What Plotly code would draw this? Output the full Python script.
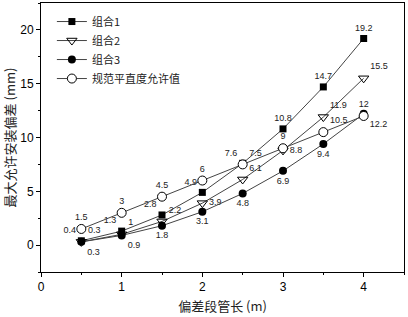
import plotly.graph_objects as go

x_len = [0.5, 1, 1.5, 2, 2.5, 3, 3.5, 4]
combo1 = [0.4, 1.3, 2.8, 4.9, 7.6, 10.8, 14.7, 19.2]
combo2 = [0.3, 1, 2.2, 3.9, 6.1, 8.8, 11.9, 15.5]
combo3 = [0.3, 0.9, 1.8, 3.1, 4.8, 6.9, 9.4, 12.2]
spec = [1.5, 3, 4.5, 6, 7.5, 9, 10.5, 12]
names = ["组合1", "组合2", "组合3", "规范平直度允许值"]

pos1 = ["top left"] * 5 + ["top center"] * 3
pos2 = ["top right", "top right", "top right", "middle right", "top right", "middle right", "top right", "top right"]
pos3 = ["bottom right", "bottom right", "bottom center", "bottom center", "bottom center", "bottom center", "bottom center", "bottom right"]
pos4 = ["top center"] * 4 + ["top right", "top center", "top right", "top center"]

line = dict(color="#444444", width=1)
lab_font = dict(family="Liberation Sans, Arial", size=9, color="#222222")

fig = go.Figure()
fig.add_trace(go.Scatter(x=x_len, y=combo1, name=names[0], mode="lines+markers+text",
                         text=[str(v) for v in combo1], textposition=pos1, textfont=lab_font,
                         line=line, marker=dict(symbol="square", size=7, color="black")))
fig.add_trace(go.Scatter(x=x_len, y=combo2, name=names[1], mode="lines+markers+text",
                         text=[str(v) for v in combo2], textposition=pos2, textfont=lab_font,
                         line=line, marker=dict(symbol="triangle-down-open", size=9, color="black", line=dict(width=1))))
fig.add_trace(go.Scatter(x=x_len, y=combo3, name=names[2], mode="lines+markers+text",
                         text=[str(v) for v in combo3], textposition=pos3, textfont=lab_font,
                         line=line, marker=dict(symbol="circle", size=8, color="black")))
fig.add_trace(go.Scatter(x=x_len, y=spec, name=names[3], mode="lines+markers+text",
                         text=[str(v) for v in spec], textposition=pos4, textfont=lab_font,
                         line=line, marker=dict(symbol="circle", size=9, color="white", line=dict(width=1, color="black"))))

axis_common = dict(showline=True, linecolor="black", linewidth=1, mirror=True, automargin=False,
                   ticks="outside", ticklen=4, tickcolor="black", showgrid=False, zeroline=False,
                   tickfont=dict(family="Liberation Sans, Arial", size=12, color="black"))

fig.update_xaxes(range=[0, 4.5], dtick=1, tick0=0,
                 minor=dict(ticks="outside", ticklen=2, dtick=0.5, tick0=0, tickcolor="black"),
                 title=dict(text="偏差段管长 (m)", font=dict(family="Noto Sans CJK SC", size=13, color="#222"), standoff=8),
                 **axis_common)
fig.update_yaxes(range=[-2.5, 22.5], dtick=5, tick0=0,
                 minor=dict(ticks="outside", ticklen=2, dtick=2.5, tick0=0, tickcolor="black"),
                 title=dict(text="最大允许安装偏差 (mm)", font=dict(family="Noto Sans CJK SC", size=13, color="#222"), standoff=4),
                 **axis_common)

fig.update_layout(width=408, height=317, margin=dict(l=41, r=4, t=3, b=45),
                  paper_bgcolor="white", plot_bgcolor="white",
                  showlegend=True,
                  legend=dict(x=0.03, y=0.985, xanchor="left", yanchor="top", bgcolor="rgba(0,0,0,0)",
                              font=dict(family="Noto Sans CJK SC", size=11, color="#222"),
                              tracegroupgap=0, itemwidth=30))

fig.write_html("out.html", config={"displayModeBar": False},
               post_script="document.body.style.margin='0';")
